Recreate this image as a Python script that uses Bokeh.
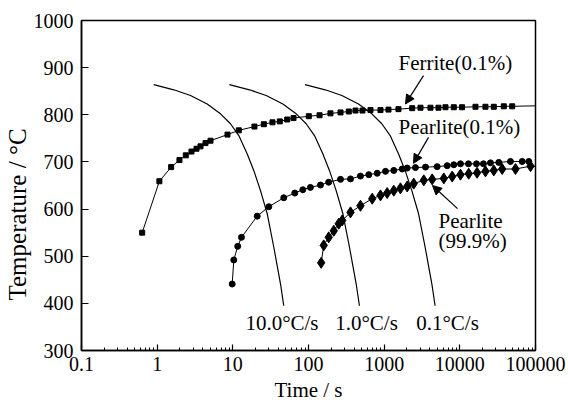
import math
from bokeh.plotting import figure
from bokeh.models import FixedTicker, CustomJSTickFormatter, Label, Arrow, NormalHead, Range1d, Title
from bokeh.embed import file_html
from bokeh.resources import INLINE

# ---- axes ----
x_ticks = [0.1, 1, 10, 100, 1000, 10000, 100000]
x_tick_labels = ["0.1", "1", "10", "100", "1000", "10000", "100000"]
x_minor_ticks = [m * d for d in [0.1, 1, 10, 100, 1000, 10000] for m in range(2, 10)]
y_ticks = [300, 400, 500, 600, 700, 800, 900, 1000]
y_tick_labels = ["300", "400", "500", "600", "700", "800", "900", "1000"]

# ---- cooling curves (time s, temperature C) ----
cool_T = [864, 853, 841, 823, 802, 781, 756, 717, 682, 639, 590, 519, 441, 395]
cool_t_10 = [0.90, 1.66, 2.76, 4.58, 6.87, 9.31, 12.0, 15.5, 18.9, 23.2, 28.5, 34.8, 42.7, 47.1]
cool_t_1 = [9.0, 16.6, 27.6, 45.8, 68.7, 93.1, 120, 155, 189, 232, 285, 348, 427, 471]
cool_t_01 = [90, 166, 276, 458, 687, 931, 1200, 1550, 1890, 2320, 2850, 3480, 4270, 4710]
cool_labels = ["10.0\u00b0C/s", "1.0\u00b0C/s", "0.1\u00b0C/s"]

# ---- Ferrite (0.1%) ----
ferrite_t = [0.634, 1.07, 1.53, 1.97, 2.39, 2.84, 3.31, 3.74, 4.35, 5.07, 8.5, 12.0, 19.3,
             25.7, 33.4, 41.8, 52.3, 63.4, 101, 140, 195, 265, 341, 418, 517, 659, 894,
             1140, 1545, 2344, 3020, 4090, 5220, 6460, 8320, 10700, 16100, 21800, 28100,
             38100, 49200, 100000]
ferrite_T = [550, 659, 689, 704, 714, 722, 728, 733, 740, 745, 758, 767, 775,
             780, 784, 786, 790, 793, 797, 799, 803, 805, 807, 809, 809, 810, 810,
             811, 812, 814, 815, 815, 815, 816, 816, 816, 817, 817, 817,
             818, 818, 819]

# ---- Pearlite (0.1%) ----
p01_t = [9.81, 10.3, 11.6, 13.0, 21.0, 29.9, 47.1, 65.9, 84.1, 106, 144, 185, 265, 359,
         486, 626, 809, 1040, 1340, 1730, 2014, 2590, 3520, 5020, 6810, 8320, 10200,
         13000, 16600, 20500, 25400, 32700, 46700, 66700, 81500]
p01_T = [441, 492, 521, 540, 585, 605, 624, 634, 641, 646, 651, 657, 663, 664,
         670, 673, 676, 680, 682, 685, 687, 688, 689, 690, 692, 694, 696,
         696, 696, 696, 698, 699, 701, 701, 701]

# ---- Pearlite (99.9%) ----
p999_t = [147, 159, 185, 216, 251, 279, 359, 486, 695, 894, 1096, 1340, 1640, 2014, 2460,
          3340, 4310, 6140, 7930, 10200, 13100, 16900, 21800, 28100, 36300, 54400, 85900,
          100000]
p999_T = [486, 523, 540, 554, 569, 576, 593, 607, 622, 629, 634, 639, 644, 648, 654,
          661, 663, 665, 669, 673, 675, 677, 680, 682, 685, 685, 691, 691]

FONT = "Liberation Serif"

p = figure(width=568, height=405, x_axis_type="log",
           x_range=Range1d(0.1, 100000), y_range=Range1d(300, 1000),
           output_backend="svg", toolbar_location=None,
           min_border_left=81, min_border_right=33, min_border_top=20, min_border_bottom=55)
p.background_fill_color = "white"
p.border_fill_color = "white"
p.xgrid.visible = False
p.ygrid.visible = False
p.outline_line_color = "black"
p.outline_line_width = 1.5

# x axis
xa = p.xaxis[0]
xa.ticker = FixedTicker(ticks=x_ticks, minor_ticks=x_minor_ticks)
xa.formatter = CustomJSTickFormatter(args=dict(xt=x_ticks, xl=x_tick_labels), code="""
let best = 0; let bd = Infinity;
for (let i = 0; i < xt.length; i++) {
  const d = Math.abs(Math.log10(xt[i]) - Math.log10(tick));
  if (d < bd) { bd = d; best = i; }
}
return xl[best];
""")
xa.major_tick_in = 6
xa.major_tick_out = 0
xa.minor_tick_in = 3
xa.minor_tick_out = 0
xa.axis_line_width = 1.5
xa.major_tick_line_width = 1.2
xa.minor_tick_line_width = 1.0
xa.major_label_text_font = FONT
xa.major_label_text_font_size = "20px"
xa.major_label_text_color = "black"
xa.major_label_standoff = 6
xa.axis_label = "Time / s"
xa.axis_label_text_font = FONT
xa.axis_label_text_font_size = "21px"
xa.axis_label_text_font_style = "normal"
xa.axis_label_text_color = "black"
xa.axis_label_standoff = 4

# y axis
ya = p.yaxis[0]
ya.ticker = FixedTicker(ticks=y_ticks)
ya.major_label_overrides = dict(zip(y_ticks, y_tick_labels))
ya.major_tick_in = 7
ya.major_tick_out = 0
ya.minor_tick_line_color = None
ya.axis_line_width = 1.5
ya.major_tick_line_width = 1.2
ya.major_label_text_font = FONT
ya.major_label_text_font_size = "20px"
ya.major_label_text_color = "black"
ya.major_label_standoff = 8

# y axis title as a side title, placed along the axis like the reference
p.add_layout(Title(text="Temperature / \u00b0C", align="left", offset=50, standoff=0,
                   text_font=FONT, text_font_size="25px", text_font_style="normal",
                   text_color="black"), "left")

# cooling curves
for tt in (cool_t_10, cool_t_1, cool_t_01):
    p.line(tt, cool_T, line_color="black", line_width=1.2)
for xx, lab in zip((44.6, 584, 6870), cool_labels):
    p.add_layout(Label(x=xx, y=359, text=lab, text_align="center", text_baseline="middle",
                       text_font=FONT, text_font_size="21px", text_color="black"))

# ferrite
p.line(ferrite_t, ferrite_T, line_color="black", line_width=1.0)
p.scatter(ferrite_t[:-1], ferrite_T[:-1], marker="square", size=5, color="black")

# pearlite 0.1
p.line(p01_t, p01_T, line_color="black", line_width=1.0)
p.scatter(p01_t, p01_T, marker="circle", size=6, color="black")

# pearlite 99.9
p.line(p999_t, p999_T, line_color="black", line_width=1.0)
p.scatter(p999_t[:-1], p999_T[:-1], marker="diamond", size=11, color="black")

# annotations
def head():
    return NormalHead(size=9, fill_color="black", line_color="black")

p.add_layout(Arrow(end=head(), x_start=3311, y_start=883, x_end=1914, y_end=823,
                   line_color="black", line_width=1.2))
p.add_layout(Arrow(end=head(), x_start=3853, y_start=752, x_end=2440, y_end=697,
                   line_color="black", line_width=1.2))
p.add_layout(Arrow(end=head(), x_start=9310, y_start=601, x_end=4350, y_end=650,
                   line_color="black", line_width=1.2))

for xx, yy, lab in [(1545, 910, "Ferrite(0.1%)"), (1545, 775, "Pearlite(0.1%)"),
                    (5220, 574, "Pearlite"), (5220, 533, "(99.9%)")]:
    p.add_layout(Label(x=xx, y=yy, text=lab, text_align="left", text_baseline="middle",
                       text_font=FONT, text_font_size="21px", text_color="black"))

open("out.html", "w").write(file_html(p, INLINE))
